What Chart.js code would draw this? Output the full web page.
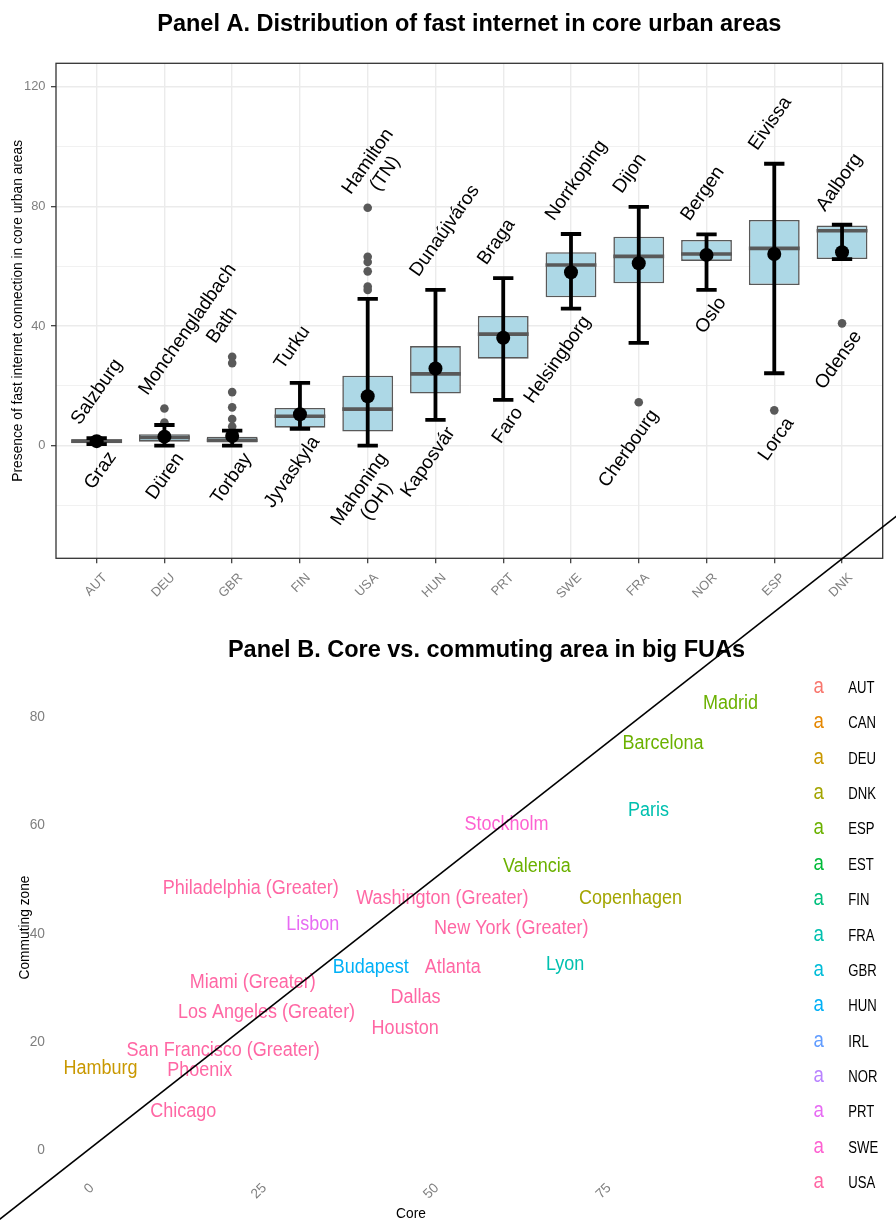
<!DOCTYPE html>
<html><head><meta charset="utf-8">
<script src="https://cdn.jsdelivr.net/npm/chart.js@4.4.1/dist/chart.umd.min.js"></script>
<style>
html,body{margin:0;padding:0;background:#fff;}
#wrap{position:relative;width:896px;height:1220px;overflow:hidden;background:#fff;}
canvas{position:absolute;left:0;top:0;}
</style></head><body>
<div id="wrap">
<canvas id="cA" width="896" height="625" style="width:896px;height:625px"></canvas>
<canvas id="cB" width="896" height="1220" style="width:896px;height:1220px"></canvas>
</div>
<script>
// ---------------- Panel A data ----------------
const countriesA = ['AUT','DEU','GBR','FIN','USA','HUN','PRT','SWE','FRA','NOR','ESP','DNK'];
const boxQ1      = [0.8, 1.3, 1.0, 6.0, 4.7, 17.4, 29.1, 49.6, 54.3, 61.8, 53.7, 62.4];
const boxMedian  = [1.5, 2.7, 1.8, 9.8, 12.2, 24.0, 37.3, 60.4, 63.3, 64.1, 66.0, 71.9];
const boxQ3      = [2.1, 3.8, 3.0, 12.6, 23.4, 33.3, 43.4, 64.7, 69.9, 68.8, 75.5, 73.6];
const whiskerLow = [0.5, 0.0, 0.0, 5.6, 0.0, 8.6, 15.3, 45.8, 34.4, 52.1, 24.2, 62.4];
const whiskerHigh= [2.5, 6.9, 5.0, 21.0, 49.1, 52.1, 56.0, 70.8, 79.9, 70.7, 94.3, 73.9];
const meanValue  = [1.5, 3.0, 3.2, 10.5, 16.5, 25.8, 36.1, 58.0, 61.0, 63.8, 64.1, 64.7];
const outlierValues = [[], [12.4, 7.7], [29.7, 27.6, 17.9, 12.8, 8.9, 6.4], [], [79.6, 63.2, 61.4, 58.3, 53.2, 52.1], [], [], [], [14.5], [], [11.8], [40.9]];
const topCity    = ['Salzburg','Monchengladbach','Bath','Turku','Hamilton\n(TN)','Dunaújváros','Braga','Norrkoping','Dijon','Bergen','Eivissa','Aalborg'];
const bottomCity = ['Graz','Düren','Torbay','Jyvaskyla','Mahoning\n(OH)','Kaposvár','Faro','Helsingborg','Cherbourg','Oslo','Lorca','Odense'];
const yTicksA = [-20, 0, 20, 40, 60, 80, 100, 120];
const yLabeledA = [0, 40, 80, 120];

// ---------------- Panel B data ----------------
const cityName = ['Madrid','Barcelona','Paris','Stockholm','Valencia','Copenhagen','Philadelphia (Greater)','Washington (Greater)','Lisbon','New York (Greater)','Budapest','Atlanta','Lyon','Miami (Greater)','Dallas','Los Angeles (Greater)','Houston','San Francisco (Greater)','Hamburg','Phoenix','Chicago'];
const cityCountry = ['ESP','ESP','FRA','SWE','ESP','DNK','USA','USA','PRT','USA','HUN','USA','FRA','USA','USA','USA','USA','USA','DEU','USA','USA'];
const coreShare = [93.2, 83.4, 81.3, 60.7, 65.1, 78.7, 23.6, 51.4, 32.6, 61.4, 41.0, 52.9, 69.2, 23.9, 47.5, 25.9, 46.0, 19.6, 1.8, 16.2, 13.8];
const commutingShare = [83.0, 75.6, 63.1, 60.6, 52.7, 46.8, 48.6, 46.8, 42.1, 41.2, 34.1, 34.1, 34.7, 31.3, 28.5, 25.7, 22.8, 18.7, 15.4, 15.0, 7.4];
const legendCountries = ['AUT','CAN','DEU','DNK','ESP','EST','FIN','FRA','GBR','HUN','IRL','NOR','PRT','SWE','USA'];
const xTicksB = [0, 25, 50, 75];
const yTicksB = [0, 20, 40, 60, 80];
const diagonal = [-40, 160];

// ---------------- styles ----------------
const hueColors = ['#F8766D','#E58700','#C99800','#A3A500','#6BB100','#00BA38','#00BF7D','#00C0AF','#00BCD8','#00B0F6','#619CFF','#B983FF','#E76BF3','#FD61D1','#FF67A4'];
const REG = '"Liberation Sans", Arial, sans-serif';
function fontAvailable(name){
  const c = document.createElement('canvas').getContext('2d');
  const s = 'mmmmmmmmmmlliWWW0123456789abcdef';
  c.font = '40px monospace'; const a = c.measureText(s).width;
  c.font = '40px "' + name + '", monospace'; const b = c.measureText(s).width;
  return Math.abs(a - b) > 0.5;
}
const HAS_NARROW = fontAvailable('Liberation Sans Narrow');
const NAR = HAS_NARROW ? '"Liberation Sans Narrow", "Liberation Sans", Arial, sans-serif' : REG;
const NF = HAS_NARROW ? 1 : 0.86;
const TICK_GRAY = '#7F7F7F';

function txt(ctx, s, x, y, o){
  ctx.save();
  ctx.font = o.font; ctx.fillStyle = o.color || '#000';
  ctx.textAlign = o.align || 'left'; ctx.textBaseline = o.baseline || 'alphabetic';
  ctx.translate(x, y);
  if (o.rot) ctx.rotate(o.rot);
  if (o.sx) ctx.scale(o.sx, 1);
  ctx.fillText(s, 0, 0);
  ctx.restore();
}

// ---------------- Panel A ----------------
const TH = 55 * Math.PI / 180;
const dX = Math.cos(TH), dY = -Math.sin(TH);   // along text
const nX = Math.sin(TH), nY = Math.cos(TH);    // local "down"
const LABEL_FONT = '19px ' + REG;
const LH = 21;

function drawBlock(ctx, text, px, py, isTop){
  const lines = text.split('\n');
  ctx.save(); ctx.font = LABEL_FONT;
  const widths = lines.map(l => ctx.measureText(l).width);
  ctx.restore();
  const W = Math.max(...widths);
  // screen offsets of first-line baseline anchor, converted to local frame
  const sx0 = isTop ? -17 : 20, sy0 = isTop ? -12.5 : 12.5;
  const along0 = sx0 * dX + sy0 * dY;
  const down0 = sx0 * nX + sy0 * nY;
  lines.forEach((l, k) => {
    const w = widths[k];
    const a = isTop ? along0 + (W - w) / 2 : along0 - W + (W - w) / 2;
    const dd = down0 + k * LH;
    const x = px + a * dX + dd * nX, y = py + a * dY + dd * nY;
    txt(ctx, l, x, y, {font: LABEL_FONT, color: '#000', align: 'left', rot: -TH});
  });
}

const panelAPlugin = {
  id: 'panelA',
  afterDatasetDraw(chart, args){
    if (chart.data.datasets[args.index].role !== 'outliers') return;
    const ctx = chart.ctx, xs = chart.scales.x, ys = chart.scales.y;
    const step = xs.getPixelForValue(2) - xs.getPixelForValue(1);
    ctx.save();
    ctx.lineCap = 'butt';
    countriesA.forEach((c, i) => {
      const x = xs.getPixelForValue(i + 1);
      const hw = step * 0.75 / 2;
      const ym = ys.getPixelForValue(boxMedian[i]);
      ctx.strokeStyle = '#595959'; ctx.lineWidth = 3.6;
      ctx.beginPath(); ctx.moveTo(x - hw, ym); ctx.lineTo(x + hw, ym); ctx.stroke();
    });
    countriesA.forEach((c, i) => {
      const x = xs.getPixelForValue(i + 1);
      const cw = step * 0.3 / 2;
      const yl = ys.getPixelForValue(whiskerLow[i]), yh = ys.getPixelForValue(whiskerHigh[i]);
      ctx.strokeStyle = '#000'; ctx.lineWidth = 3.8;
      ctx.beginPath(); ctx.moveTo(x, yl); ctx.lineTo(x, yh); ctx.stroke();
      ctx.beginPath(); ctx.moveTo(x - cw, yl); ctx.lineTo(x + cw, yl);
      ctx.moveTo(x - cw, yh); ctx.lineTo(x + cw, yh); ctx.stroke();
    });
    ctx.restore();
  },
  afterDatasetsDraw(chart){
    const ctx = chart.ctx, xs = chart.scales.x, ys = chart.scales.y;
    countriesA.forEach((c, i) => {
      const x = xs.getPixelForValue(i + 1);
      const hi = Math.max(whiskerHigh[i], ...outlierValues[i]);
      const lo = Math.min(whiskerLow[i], ...outlierValues[i]);
      drawBlock(ctx, topCity[i], x, ys.getPixelForValue(hi), true);
      drawBlock(ctx, bottomCity[i], x, ys.getPixelForValue(lo), false);
    });
  },
  afterDraw(chart){
    const ctx = chart.ctx, a = chart.chartArea;
    ctx.save(); ctx.strokeStyle = '#333333'; ctx.lineWidth = 1.3;
    ctx.strokeRect(a.left, a.top, a.right - a.left, a.bottom - a.top);
    ctx.restore();
  }
};

const outlierPoints = [];
outlierValues.forEach((arr, i) => arr.forEach(v => outlierPoints.push({x: i + 1, y: v})));

const tickFontA = {family: NAR, size: 15 * NF};
const titleFontA = {family: NAR, size: 16 * NF};

new Chart(document.getElementById('cA'), {
  type: 'bar',
  data: {
    datasets: [
      {
        role: 'box', type: 'bar', order: 3,
        data: countriesA.map((c, i) => ({x: i + 1, y: [boxQ1[i], boxQ3[i]]})),
        backgroundColor: '#ADD8E6', borderColor: '#595959', borderWidth: 1.6,
        borderSkipped: false, barPercentage: 0.75, categoryPercentage: 1, grouped: false
      },
      {
        role: 'outliers', type: 'scatter', order: 2,
        data: outlierPoints,
        pointRadius: 4.3, pointBackgroundColor: '#595959', pointBorderWidth: 0, borderWidth: 0
      },
      {
        role: 'mean', type: 'scatter', order: 1,
        data: countriesA.map((c, i) => ({x: i + 1, y: meanValue[i]})),
        pointRadius: 7, pointBackgroundColor: '#000', pointBorderWidth: 0, borderWidth: 0
      }
    ]
  },
  options: {
    responsive: false, animation: false, devicePixelRatio: 1, events: [],
    layout: {padding: {left: 0, right: 13.3, top: 0, bottom: 0}},
    plugins: {
      legend: {display: false}, tooltip: {enabled: false},
      title: {
        display: true, fullSize: false, color: '#000',
        text: 'Panel A. Distribution of fast internet in core urban areas',
        font: {family: REG, size: 23.5, weight: 'bold'},
        padding: {top: 10.3, bottom: 24.8}
      }
    },
    scales: {
      x: {
        type: 'linear', min: 0.4, max: 12.6, offset: false,
        afterBuildTicks: s => { s.ticks = countriesA.map((c, i) => ({value: i + 1})); },
        afterFit: s => { s.height = 66.7; },
        ticks: {
          callback: (v, i) => countriesA[i], autoSkip: false,
          minRotation: 45, maxRotation: 45, color: TICK_GRAY, font: tickFontA,
          padding: 7, labelOffset: 8.5
        },
        grid: {offset: false, color: '#EBEBEB', lineWidth: 1.4, drawTicks: true, tickLength: 5, tickColor: '#333333', tickWidth: 1.2},
        border: {display: false}
      },
      y: {
        type: 'linear', min: -37.7, max: 127.9,
        afterBuildTicks: s => { s.ticks = yTicksA.map(v => ({value: v})); },
        afterFit: s => { s.width = 56; },
        ticks: {
          callback: v => yLabeledA.includes(v) ? String(v) : '',
          color: TICK_GRAY, font: tickFontA, padding: 5.5
        },
        grid: {
          offset: false,
          color: '#EBEBEB',
          lineWidth: c => (c.tick && yLabeledA.includes(c.tick.value)) ? 1.4 : 0.7,
          drawTicks: true, tickLength: 5,
          tickColor: c => (c.tick && yLabeledA.includes(c.tick.value)) ? '#333333' : 'rgba(0,0,0,0)',
          tickWidth: 1.2
        },
        border: {display: false},
        title: {
          display: true, text: 'Presence of fast internet connection in core urban areas',
          color: '#000', font: titleFontA,
          padding: {top: 18.3 - titleFontA.size * 0.6, bottom: 0}
        }
      }
    }
  },
  plugins: [panelAPlugin]
});

// ---------------- Panel B ----------------
const CITY_FONT = '20px ' + REG;
const panelBPlugin = {
  id: 'panelB',
  beforeDatasetsDraw(chart){
    const ctx = chart.ctx;
    chart.data.datasets.forEach((ds, di) => {
      if (ds.role !== 'cities') return;
      const meta = chart.getDatasetMeta(di);
      meta.data.forEach((el, j) => {
        txt(ctx, ds.data[j].name, el.x, el.y + 0.358 * 20, {font: CITY_FONT, color: ds.textColor, align: 'center', sx: 0.9});
      });
    });
  },
  afterDraw(chart){
    const ctx = chart.ctx, a = chart.chartArea;
    txt(ctx, 'Panel B. Core vs. commuting area in big FUAs', 486.5, 648.8 + 0.358 * 23.5,
        {font: 'bold 23.5px ' + REG, color: '#000', align: 'center'});
    const x0 = a.right + 53.8, xl = a.right + 83.3, y0 = a.top - 2.7, dy = 35.36;
    legendCountries.forEach((c, i) => {
      const y = y0 + i * dy;
      txt(ctx, 'a', x0, y + 0.26 * 22, {font: '22px ' + REG, color: hueColors[i], align: 'center', sx: 0.85});
      txt(ctx, c, xl, y + 0.358 * 16, {font: '16px ' + REG, color: '#000', align: 'left', sx: 0.82});
    });
  }
};

const datasetsB = [];
legendCountries.forEach((c, ci) => {
  const pts = [];
  cityName.forEach((n, i) => { if (cityCountry[i] === c) pts.push({x: coreShare[i], y: commutingShare[i], name: n}); });
  if (pts.length) datasetsB.push({role: 'cities', type: 'scatter', label: c, data: pts, pointRadius: 0, textColor: hueColors[ci], order: 2});
});
datasetsB.push({
  role: 'diag', type: 'line', data: diagonal.map(v => ({x: v, y: v})),
  borderColor: '#000', borderWidth: 1.7, pointRadius: 0, clip: false, order: 0, tension: 0
});

const tickFontB = {family: NAR, size: 16 * NF};
const titleFontB = {family: NAR, size: 16 * NF};

new Chart(document.getElementById('cB'), {
  type: 'scatter',
  data: {datasets: datasetsB},
  options: {
    responsive: false, animation: false, devicePixelRatio: 1, events: [],
    layout: {padding: {left: 0, right: 131, top: 690, bottom: 0}},
    plugins: {legend: {display: false}, tooltip: {enabled: false}, title: {display: false}},
    scales: {
      x: {
        type: 'linear', min: -4.5, max: 98.2,
        afterBuildTicks: s => { s.ticks = xTicksB.map(v => ({value: v})); },
        afterFit: s => { s.height = 55; },
        ticks: {callback: v => String(v), autoSkip: false, minRotation: 45, maxRotation: 45,
                color: TICK_GRAY, font: tickFontB, padding: 15, labelOffset: 4},
        grid: {display: false, drawTicks: false},
        border: {display: false},
        title: {display: true, text: 'Core', color: '#000', font: titleFontB,
                padding: {top: 0, bottom: 6 - titleFontB.size * 0.6}}
      },
      y: {
        type: 'linear', min: -2.78, max: 85.1,
        afterBuildTicks: s => { s.ticks = yTicksB.map(v => ({value: v})); },
        afterFit: s => { s.width = 57; },
        ticks: {callback: v => String(v), color: TICK_GRAY, font: tickFontB, padding: 12},
        grid: {display: false, drawTicks: false},
        border: {display: false},
        title: {display: true, text: 'Commuting zone', color: '#000', font: titleFontB,
                padding: {top: 25 - titleFontB.size * 0.6, bottom: 0}}
      }
    }
  },
  plugins: [panelBPlugin]
});
</script>
</body></html>
